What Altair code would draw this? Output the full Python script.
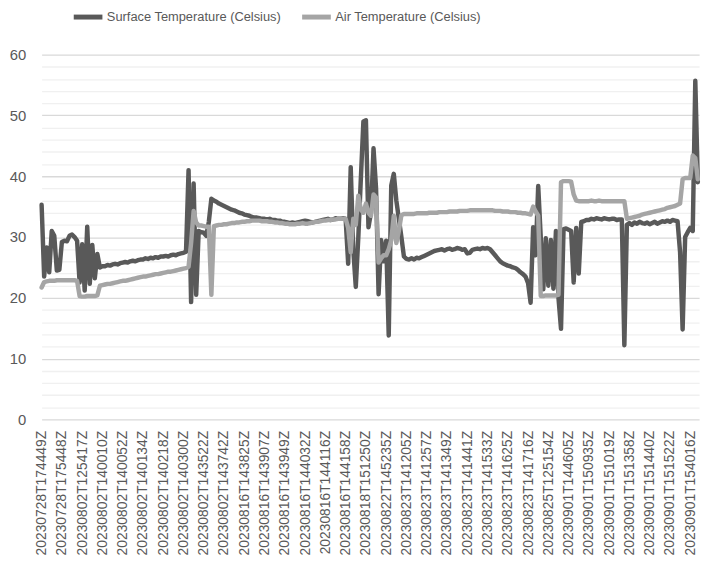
import altair as alt
import pandas as pd

LABELS = [
    "20230728T174449Z", "20230728T175448Z", "20230802T125417Z", "20230802T140010Z",
    "20230802T140052Z", "20230802T140134Z", "20230802T140218Z", "20230802T140300Z",
    "20230802T143522Z", "20230802T143742Z", "20230816T143825Z", "20230816T143907Z",
    "20230816T143949Z", "20230816T144032Z", "20230816T144116Z", "20230816T144158Z",
    "20230818T151250Z", "20230822T145235Z", "20230823T141205Z", "20230823T141257Z",
    "20230823T141349Z", "20230823T141441Z", "20230823T141533Z", "20230823T141625Z",
    "20230823T141716Z", "20230825T125154Z", "20230901T144605Z", "20230901T150935Z",
    "20230901T151019Z", "20230901T151358Z", "20230901T151440Z", "20230901T151522Z",
    "20230901T154016Z",
]
PER_LABEL = 8  # readings between two consecutive labelled categories

SURFACE = [
    35.3, 23.5, 28.3, 24.2, 31.0, 30.2, 24.5, 24.6,
    29.2, 29.4, 29.3, 30.2, 30.4, 30.0, 29.4, 22.5,
    28.8, 21.2, 31.7, 22.3, 28.7, 23.2, 27.2, 25.0,
    25.2, 25.2, 25.4, 25.3, 25.5, 25.6, 25.5, 25.7,
    25.8, 25.9, 25.8, 26.0, 26.1, 26.0, 26.2, 26.3,
    26.3, 26.5, 26.4, 26.6, 26.5, 26.7, 26.6, 26.8,
    26.8, 26.9, 26.8, 27.0, 27.1, 27.0, 27.2, 27.3,
    27.4, 27.6, 41.0, 19.3, 38.8, 20.5, 31.0, 30.8,
    30.7, 30.2, 32.5, 36.3, 36.0, 35.8, 35.5, 35.3,
    35.1, 34.9, 34.7, 34.5, 34.4, 34.2, 34.0, 33.9,
    33.7, 33.6, 33.5, 33.3, 33.2, 33.2, 33.1, 33.0,
    33.0, 32.9, 33.0, 32.8, 32.8, 32.7, 32.7, 32.5,
    32.5, 32.4, 32.3, 32.4, 32.3, 32.4, 32.5, 32.6,
    32.7, 32.6, 32.5, 32.4, 32.5, 32.6, 32.7, 32.8,
    32.9, 33.0, 32.8, 32.9, 33.1, 33.0, 33.0, 33.1,
    33.0, 25.6, 41.5, 28.0, 21.8, 30.0, 39.6, 49.0,
    49.2, 31.6, 34.0, 44.6, 38.0, 20.6, 29.5, 26.0,
    29.4, 13.8, 38.5, 40.4, 36.0, 33.0, 30.0, 26.8,
    26.4, 26.3, 26.5, 26.3, 26.6, 26.5, 26.7, 26.9,
    27.1, 27.3, 27.5, 27.7, 27.8, 27.9, 28.0, 27.8,
    28.0, 28.1, 27.9, 28.0, 28.2, 28.1, 27.9, 28.0,
    27.3, 27.4, 27.9, 28.0, 28.1, 28.0, 28.2, 28.1,
    28.2, 28.0, 27.5, 27.0, 26.5, 26.0, 25.7, 25.5,
    25.3, 25.2, 25.0, 24.9, 24.6, 24.2, 23.9, 23.5,
    22.4, 19.2, 31.6, 27.0, 38.4, 30.0, 21.4, 29.8,
    22.0, 29.5, 21.5, 31.0, 20.0, 14.9, 31.3, 31.4,
    31.2, 31.0, 22.5, 31.5, 24.0, 32.5, 32.6, 32.8,
    32.8, 33.0, 32.9, 33.1, 33.0, 32.9, 33.1, 33.0,
    32.9, 33.0, 33.0, 32.8, 32.9, 32.9, 12.2, 32.0,
    32.3, 32.0, 32.4, 32.2, 32.5, 32.3, 32.2, 32.4,
    32.1, 32.3, 32.5, 32.2, 32.4, 32.6, 32.5, 32.7,
    32.5, 32.8, 32.7, 32.6, 27.5, 14.8, 30.0, 30.8,
    31.5, 31.0, 55.7, 39.0,
]

AIR = [
    21.7, 22.6, 22.7, 22.8, 22.8, 22.8, 22.9, 22.9,
    22.9, 22.9, 22.9, 22.9, 22.9, 22.9, 22.8, 20.3,
    20.2, 20.2, 20.3, 20.3, 20.3, 20.3, 20.4, 22.0,
    22.1, 22.2, 22.3, 22.3, 22.4, 22.5, 22.6, 22.7,
    22.8, 22.8, 22.9, 23.0, 23.1, 23.2, 23.3, 23.4,
    23.5, 23.5, 23.6, 23.7, 23.8, 23.9, 23.9, 24.0,
    24.1, 24.2, 24.3, 24.3, 24.4, 24.5, 24.6, 24.7,
    24.8, 24.9, 25.1, 29.0, 34.3, 32.4, 31.9, 31.9,
    31.8, 31.7, 31.7, 20.5, 31.8, 31.9, 32.0, 32.0,
    32.1, 32.1, 32.2, 32.3, 32.3, 32.4, 32.4, 32.5,
    32.5, 32.6, 32.6, 32.7, 32.7, 32.7, 32.7, 32.6,
    32.6, 32.6, 32.5, 32.5, 32.4, 32.4, 32.3, 32.3,
    32.2, 32.2, 32.1, 32.1, 32.1, 32.2, 32.2, 32.3,
    32.2, 32.2, 32.3, 32.4, 32.5, 32.5, 32.6, 32.7,
    32.7, 32.8, 32.8, 32.9, 32.9, 33.0, 33.0, 33.0,
    33.0, 31.5, 27.5, 33.0, 32.0, 36.8, 34.5, 34.0,
    35.5, 34.0, 33.5, 37.0, 36.5, 25.8, 26.5, 27.0,
    27.0, 28.0, 29.5, 33.5, 29.0, 31.0, 33.6, 33.8,
    33.8, 33.8, 33.8, 33.8, 33.9, 33.9, 33.9, 33.9,
    33.9, 34.0, 34.0, 34.0, 34.0, 34.1, 34.1, 34.1,
    34.1, 34.2, 34.2, 34.2, 34.2, 34.3, 34.3, 34.3,
    34.3, 34.4, 34.4, 34.4, 34.4, 34.4, 34.4, 34.4,
    34.4, 34.4, 34.4, 34.3, 34.3, 34.3, 34.2, 34.2,
    34.2, 34.1, 34.1, 34.1, 34.0, 34.0, 33.9, 33.9,
    33.8, 33.7, 35.0, 34.2, 33.5, 20.3, 20.3, 20.4,
    20.4, 20.4, 20.4, 20.4, 20.5, 39.0, 39.2, 39.2,
    39.2, 39.1, 37.0, 36.0, 35.9, 35.9, 35.9, 35.9,
    35.9, 36.0, 35.9, 35.9, 36.0, 35.9, 35.9, 35.9,
    35.9, 35.9, 35.9, 35.9, 35.9, 35.9, 35.9, 33.0,
    33.1, 33.2, 33.3, 33.4, 33.5, 33.7, 33.8, 33.9,
    34.0, 34.1, 34.2, 34.3, 34.4, 34.5, 34.6, 34.8,
    34.9, 35.0, 35.1, 35.3, 35.5, 39.5, 39.7, 39.7,
    39.7, 43.4, 43.0, 39.5,
]

SERIES = ["Surface Temperature (Celsius)", "Air Temperature (Celsius)"]
COLORS = ["#595959", "#a5a5a5"]
FONT = "Liberation Sans, Arial"
TEXT = "#595959"

rows = []
for name, vals in zip(SERIES, [SURFACE, AIR]):
    for i, v in enumerate(vals):
        rows.append({"idx": i, "series": name, "value": v})
df = pd.DataFrame(rows)

label_js = "[" + ",".join("'" + s + "'" for s in LABELS) + "]"
tick_vals = [i * PER_LABEL for i in range(len(LABELS))]
n_points = len(SURFACE)

x = alt.X(
    "idx:Q",
    scale=alt.Scale(domain=[0, n_points - 0.5], nice=False, zero=False),
    axis=alt.Axis(
        values=tick_vals,
        labelExpr=label_js + "[round(datum.value / " + str(PER_LABEL) + ")]",
        labelAngle=270,
        labelOverlap=False,
        labelLimit=0,
        grid=False,
        ticks=False,
        domain=False,
        labelPadding=11,
        labelFont=FONT,
        labelFontSize=14,
        labelColor=TEXT,
        title=None,
    ),
)
y = alt.Y(
    "value:Q",
    scale=alt.Scale(domain=[0, 60], nice=False),
    axis=alt.Axis(
        values=list(range(0, 61, 2)),
        labelExpr="datum.value % 10 === 0 ? datum.label : ''",
        labelOverlap=False,
        gridColor={"condition": {"test": "datum.value % 10 === 0", "value": "#d9d9d9"}, "value": "#f0f0f0"},
        gridWidth=1.3,
        ticks=False,
        domain=False,
        labelPadding=16,
        labelFont=FONT,
        labelFontSize=15,
        labelColor=TEXT,
        title=None,
    ),
)
color = alt.Color(
    "series:N",
    scale=alt.Scale(domain=SERIES, range=COLORS),
    legend=alt.Legend(
        orient="none",
        legendX=30,
        legendY=-55,
        direction="horizontal",
        symbolType="stroke",
        symbolSize=841,
        symbolStrokeWidth=5,
        labelFont=FONT,
        labelFontSize=13,
        labelColor=TEXT,
        labelLimit=0,
        labelOffset=2,
        columnPadding=10,
        padding=0,
        title=None,
    ),
)

base = alt.Chart(df).mark_line(strokeWidth=4.5, strokeCap="round", strokeJoin="round").encode(
    x=x, y=y, color=color, order="idx:Q"
)
surface = base.transform_filter(alt.datum.series == SERIES[0])
air = base.transform_filter(alt.datum.series == SERIES[1])

chart = alt.layer(surface, air).properties(
    width=665,
    height=369,
    padding={"left": 34, "top": 44, "right": 8, "bottom": 140},
    autosize=alt.AutoSizeParams(type="none"),
    background="white",
).configure_view(stroke=None)

chart.save("out.html", embed_options={"renderer": "svg", "actions": False})
